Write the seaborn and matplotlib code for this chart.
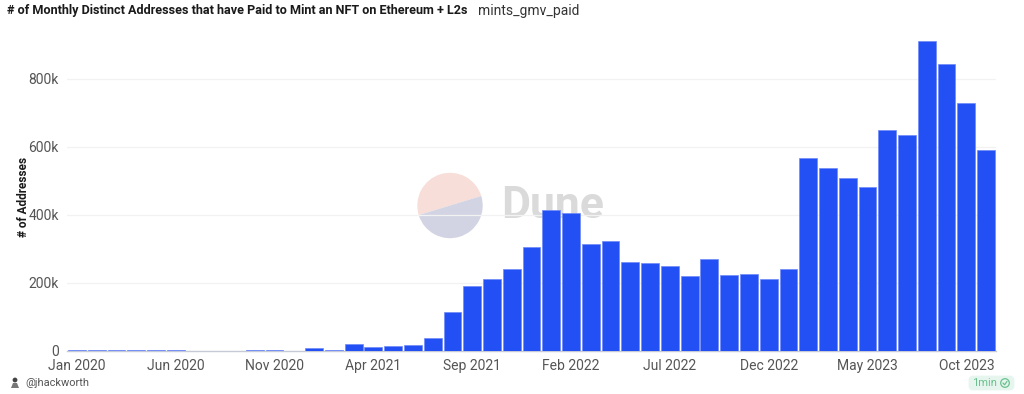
import matplotlib
matplotlib.use('Agg')
import matplotlib.pyplot as plt
from matplotlib.patches import Wedge, FancyBboxPatch, Circle, Polygon
import pandas as pd
import seaborn as sns

months = [str(d.date()) for d in pd.date_range('2020-01-01', '2023-11-01', freq='MS')]
addresses = [2000, 2000, 3000, 3000, 3000, 3000, 1000, 1000, 1000, 3000, 4000, 1000,
             8000, 4000, 22000, 12000, 15000, 19000, 37000, 115000, 190000, 213000, 240000, 305000,
             415000, 405000, 315000, 325000, 262000, 260000, 250000, 220000, 270000, 224000, 227000, 213000,
             240000, 567000, 538000, 510000, 483000, 650000, 635000, 913000, 843000, 728000, 592000]
tick_months = ['2020-01-01', '2020-06-01', '2020-11-01', '2021-04-01', '2021-09-01', '2022-02-01',
               '2022-07-01', '2022-12-01', '2023-05-01', '2023-10-01']
tick_labels = ['Jan 2020', 'Jun 2020', 'Nov 2020', 'Apr 2021', 'Sep 2021', 'Feb 2022',
               'Jul 2022', 'Dec 2022', 'May 2023', 'Oct 2023']
y_ticks = [0, 200000, 400000, 600000, 800000]
y_labels = ['0', '200k', '400k', '600k', '800k']

df = pd.DataFrame({'month': months, 'addresses': addresses})

sns.set_theme(style='white')
plt.rcParams['font.family'] = ['Roboto', 'DejaVu Sans']

W, H = 1024, 394
fig = plt.figure(figsize=(W / 100, H / 100), dpi=100, facecolor='white')

# background layer in pixel coords, for the watermark and footer
bg = fig.add_axes([0, 0, 1, 1], zorder=0)
bg.set_xlim(0, W)
bg.set_ylim(H, 0)
bg.axis('off')
bg.add_patch(Wedge((450, 205.5), 32.7, 163, 343, facecolor='#f8ded8', edgecolor='none'))
bg.add_patch(Wedge((450, 205.5), 32.7, -17, 163, facecolor='#d3d4e3', edgecolor='none'))
bg.text(501, 206, 'Dune', fontsize=32, fontweight='bold', color='#dadada', va='center', ha='left')

# main chart
left, right, top, bottom = 67, 996, 24, 351
ax = fig.add_axes([left / W, 1 - bottom / H, (right - left) / W, (bottom - top) / H], zorder=1)
ax.patch.set_alpha(0)
sns.barplot(data=df, x='month', y='addresses', color='#2350f5', saturation=1, width=0.9,
            edgecolor='#6f8af8', linewidth=0.5, ax=ax, zorder=3)
ax.set_xlim(-0.5, 46.5)
ax.set_ylim(0, (bottom - top) / 0.34 * 1000)
ax.set_xticks([months.index(m) for m in tick_months])
ax.set_xticklabels(tick_labels, fontsize=10, color='#555555')
ax.set_yticks(y_ticks)
ax.set_yticklabels(y_labels, fontsize=10, color='#555555')
ax.tick_params(axis='x', length=0, pad=6)
ax.tick_params(axis='y', length=0, pad=6)
ax.yaxis.grid(True, color='#f2f2f2', linewidth=0.9)
ax.set_axisbelow(True)
ax.set_xlabel('')
ax.set_ylabel('')
for s in ['top', 'right', 'left']:
    ax.spines[s].set_visible(False)
ax.spines['bottom'].set_color('#c5cad6')
ax.spines['bottom'].set_linewidth(1)

# text and footer on top
fg = fig.add_axes([0, 0, 1, 1], zorder=2)
fg.set_xlim(0, W)
fg.set_ylim(H, 0)
fg.axis('off')
fg.text(7, 10.5, '# of Monthly Distinct Addresses that have Paid to Mint an NFT on Ethereum + L2s',
        fontsize=9.05, fontweight='bold', color='#1a1a1a', va='center', ha='left')
fg.text(478, 10.5, 'mints_gmv_paid', fontsize=10, color='#333333', va='center', ha='left')
fg.text(24, 197, '# of Addresses', fontsize=8.5, fontweight='bold', color='#1a1a1a',
        rotation=90, va='center', ha='center')

fg.add_patch(Circle((15, 380), 2.4, facecolor='#444444', edgecolor='none'))
fg.add_patch(Polygon([(11, 388), (19, 388), (17, 383), (13, 383)], facecolor='#777777', edgecolor='none'))
fg.text(25, 383, '@jhackworth', fontsize=7.9, color='#555555', va='center', ha='left')

fg.add_patch(FancyBboxPatch((970, 377), 43, 12, boxstyle='round,pad=0,rounding_size=3',
                            facecolor='#e6f6ee', edgecolor='#e6f6ee', linewidth=2))
fg.text(972, 383, '1min', fontsize=8, color='#6cc08f', va='center', ha='left')
fg.add_patch(Circle((1005, 383), 4.3, facecolor='none', edgecolor='#6cc08f', linewidth=0.9))
fg.plot([1003, 1004.6, 1007], [383, 384.8, 381.4], color='#6cc08f', linewidth=0.9)

fig.savefig('out.png', dpi=100)
